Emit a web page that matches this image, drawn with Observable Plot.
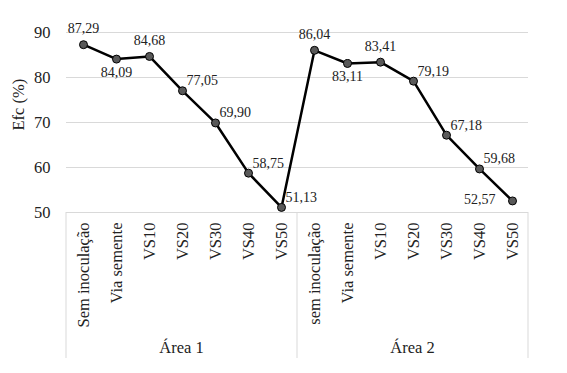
<!DOCTYPE html>
<html>
<head>
<meta charset="utf-8">
<script src="https://cdn.jsdelivr.net/npm/d3@7"></script>
<script src="https://cdn.jsdelivr.net/npm/@observablehq/plot@0.6"></script>
<style>
  body { margin: 0; background: #fff; }
  #chart g[aria-label*="axis"] text { font-size: 16.5px !important; }
</style>
</head>
<body>
<div id="chart"></div>
<script>
const groups = ["Área 1", "Área 2"];
const categories1 = ["Sem inoculação", "Via semente", "VS10", "VS20", "VS30", "VS40", "VS50"];
const categories2 = ["sem inoculação", "Via semente", "VS10", "VS20", "VS30", "VS40", "VS50"];
const values1 = [87.29, 84.09, 84.68, 77.05, 69.90, 58.75, 51.13];
const values2 = [86.04, 83.11, 83.41, 79.19, 67.18, 59.68, 52.57];
const yTicks = [50, 60, 70, 80, 90];
const yLabel = "Efc (%)";
const placement1 = ["above", "below", "above", "upright", "upright", "upright", "upright"];
const placement2 = ["above", "below", "above", "upright", "upright", "upright", "left"];

const data = [
  ...categories1.map((c, i) => ({group: groups[0], key: "1|" + c, label: c, value: values1[i], place: placement1[i]})),
  ...categories2.map((c, i) => ({group: groups[1], key: "2|" + c, label: c, value: values2[i], place: placement2[i]}))
];
const keys = data.map(d => d.key);
const fmt = v => v.toFixed(2).replace(".", ",");

const textStyle = {fontSize: 14, fill: "#222"};
const labelMark = (place, opts) => Plot.text(data.filter(d => d.place === place), {
  x: "key", y: "value", text: d => fmt(d.value), ...textStyle, ...opts
});

// custom group separators and group labels (computed from frame dimensions)
function groupAxis(index, scales, values, dim) {
  const g = d3.create("svg:g");
  const left = dim.marginLeft, right = dim.width - dim.marginRight;
  const top = dim.height - dim.marginBottom, bottom = dim.height - 15;
  const n = groups.length;
  const w = (right - left) / n;
  for (let i = 0; i <= n; i++) {
    g.append("line")
      .attr("x1", left + i * w).attr("x2", left + i * w)
      .attr("y1", top).attr("y2", bottom)
      .attr("stroke", "#d9d9d9").attr("stroke-width", 1);
  }
  groups.forEach((name, i) => {
    g.append("text")
      .attr("x", left + (i + 0.5) * w)
      .attr("y", bottom - 5)
      .attr("text-anchor", "middle")
      .attr("font-size", 16.5)
      .attr("fill", "#222")
      .text(name);
  });
  return g.node();
}

const chart = Plot.plot({
  width: 567,
  height: 373,
  marginLeft: 66,
  marginRight: 39,
  marginTop: 32,
  marginBottom: 161,
  style: {fontFamily: "Liberation Serif", fontSize: "16px", color: "#222", background: "#fff"},
  x: {type: "point", domain: keys, padding: 0.5},
  y: {domain: [50, 90]},
  marks: [
    Plot.gridY(yTicks, {stroke: "#d9d9d9", strokeOpacity: 1}),
    Plot.axisY({ticks: yTicks, tickSize: 0, tickPadding: 16, label: null}),
    Plot.axisX({tickSize: 0, tickPadding: 10, tickRotate: -90, tickFormat: d => d.split("|")[1], label: null}),
    Plot.text([yLabel], {frameAnchor: "left", text: d => d, rotate: -90, dx: -48, dy: 8, fontSize: 16.5, fill: "#222"}),
    Plot.line(data, {x: "key", y: "value", stroke: "black", strokeWidth: 2.5}),
    Plot.dot(data, {x: "key", y: "value", r: 4, fill: "#595959", stroke: "black", strokeWidth: 1}),
    labelMark("above", {dy: -16}),
    labelMark("below", {dy: 13}),
    labelMark("upright", {dx: 4, dy: -10, textAnchor: "start"}),
    labelMark("left", {dx: -17, dy: -1, textAnchor: "end"}),
    groupAxis
  ]
});
document.getElementById("chart").appendChild(chart);
</script>
</body>
</html>
